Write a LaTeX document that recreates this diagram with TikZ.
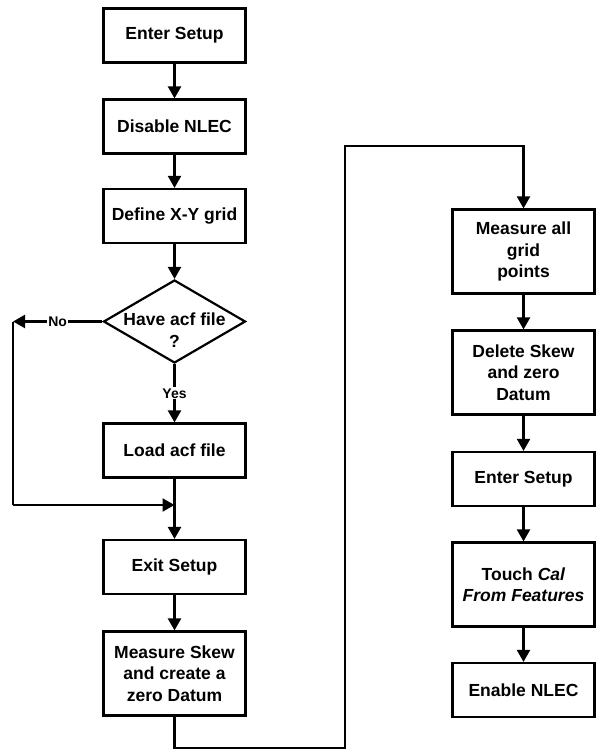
\documentclass[tikz,border=0pt]{standalone}
\usepackage{fontspec}
\setmainfont{Liberation Sans}
\usetikzlibrary{arrows.meta,shapes.geometric}
\begin{document}
\begin{tikzpicture}[x=1bp,y=-1bp,
  every node/.style={font=\fontsize{17.5bp}{21.5bp}\selectfont\bfseries},
  box/.style={draw,line width=2.2bp,minimum width=142bp,inner sep=0pt,align=center,fill=white},
  sbox/.style={box,minimum height=54bp},
  tbox/.style={box,minimum height=84bp},
  conn/.style={line width=2.2bp},
  arr/.style={conn,-{Triangle[length=12bp,width=13bp]}},
  lbl/.style={fill=white,inner sep=1pt,font=\fontsize{14bp}{16bp}\selectfont\bfseries}]
\useasboundingbox (0,0) rectangle (596,750);
% left column
\node[sbox] (b1) at (174.5,35.5) {Enter Setup};
\node[sbox] (b2) at (174.5,126.5) {Disable NLEC};
\node[sbox] (b3) at (174.5,216) {Define X-Y grid};
\node[diamond,draw,line width=2.2bp,minimum width=142bp,minimum height=83bp,inner sep=0pt,aspect=1.71] (d) at (174.5,321.5) {};
\node[align=center,inner sep=0pt] (dt) at (174.5,330) {Have acf file\\?};
\node[sbox] (load) at (174.5,450.5) {Load acf file};
\node[sbox] (exit) at (174.5,567) {Exit Setup};
\node[tbox] (skew) at (174.5,673.5) {Measure Skew\\and create a\\zero Datum};
% right column
\node[tbox] (r1) at (523.5,251.5) {Measure all\\grid\\points};
\node[tbox] (r2) at (523.5,372.5) {Delete Skew\\and zero\\Datum};
\node[sbox] (r3) at (523.5,479) {Enter Setup};
\node[tbox] (r4) at (523.5,584.5) {Touch \textit{Cal}\\\textit{From Features}};
\node[sbox] (r5) at (523.5,690) {Enable NLEC};
% coordinates
\coordinate (nocorner) at (13,321.5);
\coordinate (nobottom) at (13,505);
\coordinate (join) at (174.5,505);
\coordinate (c1) at (174.5,748);
\coordinate (c2) at (345,748);
\coordinate (c3) at (345,146);
\coordinate (c4) at (523.5,146);
% connectors
\draw[arr] (b1) -- (b2);
\draw[arr] (b2) -- (b3);
\draw[arr] (b3) -- (d);
\draw[arr] (d.west) -- (nocorner) node[lbl,pos=0.5] (no) {No};
\draw[conn] (nocorner) -- (nobottom);
\draw[arr] (nobottom) -- (join);
\draw[arr] (d.south) -- (load.north) node[lbl,pos=0.5] (yes) {Yes};
\draw[arr] (load) -- (exit);
\draw[arr] (exit) -- (skew);
\draw[arr] (skew.south) -- (c1) -- (c2) -- (c3) -- (c4) -- (r1.north);
\draw[arr] (r1) -- (r2);
\draw[arr] (r2) -- (r3);
\draw[arr] (r3) -- (r4);
\draw[arr] (r4) -- (r5);
\end{tikzpicture}
\end{document}
